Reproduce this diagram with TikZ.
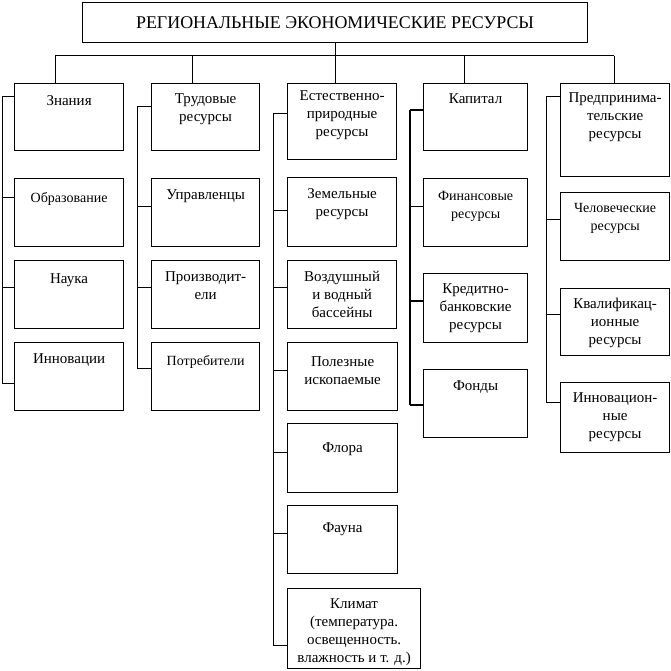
\documentclass[tikz,border=0pt]{standalone}
\usepackage{fontspec}
\setmainfont{Liberation Serif}
\tikzset{
  x=1pt, y=-1pt,
  boxst/.style={draw, line width=1.2pt, rectangle, inner sep=0pt, anchor=north west},
  txt/.style={anchor=north, align=center, inner sep=0pt, font=\fontsize{15}{18}\selectfont},
  txts/.style={anchor=north, align=center, inner sep=0pt, font=\fontsize{14}{18}\selectfont},
  conn/.style={line width=1pt},
  connb/.style={line width=1.8pt}
}
\newcommand\mkbox[8]{% name, x1, y1, x2, y2, style, text offset, text
  \node[boxst, minimum width=#4-#2, minimum height=#5-#3] (#1) at (#2,#3) {};
  \node[#6] (#1-t) at ([yshift=-#7pt]#1.north) {#8};
}
\begin{document}
\begin{tikzpicture}
\useasboundingbox (0,0) rectangle (671,671);
% title
\node[boxst, minimum width=505, minimum height=40] (title) at (82,2) {};
\node[anchor=center, inner sep=0pt, font=\fontsize{17.9}{20}\selectfont] (title-t) at (title.center) {РЕГИОНАЛЬНЫЕ ЭКОНОМИЧЕСКИЕ РЕСУРСЫ};

% column 1
\mkbox{kn}{14}{83}{123}{150}{txt}{12}{Знания}
\mkbox{obr}{14}{178}{123}{246}{txts}{14}{Образование}
\mkbox{nau}{14}{260}{123}{328}{txt}{13}{Наука}
\mkbox{inn}{14}{342}{123}{410}{txt}{11}{Инновации}
% column 2
\mkbox{tr}{151}{83}{259}{150}{txt}{10}{Трудовые\\ресурсы}
\mkbox{upr}{151}{178}{259}{246}{txt}{11}{Управленцы}
\mkbox{pro}{151}{260}{259}{328}{txt}{11}{Производит-\\ели}
\mkbox{pot}{151}{342}{259}{410}{txts}{13}{Потребители}
% column 3
\mkbox{est}{287}{83}{396}{159}{txt}{7}{Естественно-\\природные\\ресурсы}
\mkbox{zem}{287}{177}{396}{246}{txt}{11}{Земельные\\ресурсы}
\mkbox{voz}{287}{260}{396}{328}{txt}{11}{Воздушный\\и водный\\бассейны}
\mkbox{pol}{287}{342}{397}{410}{txt}{14}{Полезные\\ископаемые}
\mkbox{flo}{287}{423}{397}{492}{txt}{19}{Флора}
\mkbox{fau}{287}{505}{397}{573}{txt}{17}{Фауна}
\mkbox{kli}{287}{588}{420}{668}{txt}{10}{Климат\\(температура.\\освещенность.\\влажность и т. д.)}
% column 4
\mkbox{kap}{423}{83}{527}{150}{txt}{10}{Капитал}
\mkbox{fin}{423}{178}{527}{246}{txts}{13}{Финансовые\\ресурсы}
\mkbox{kre}{423}{273}{527}{342}{txt}{10}{Кредитно-\\банковские\\ресурсы}
\mkbox{fon}{423}{369}{527}{437}{txt}{11}{Фонды}
% column 5
\mkbox{pre}{560}{83}{669}{176}{txt}{9}{Предпринима-\\тельские\\ресурсы}
\mkbox{che}{560}{192}{669}{260}{txts}{11}{Человеческие\\ресурсы}
\mkbox{kva}{560}{288}{669}{355}{txt}{10}{Квалификац-\\ионные\\ресурсы}
\mkbox{inr}{560}{382}{669}{452}{txt}{10}{Инновацион-\\ные\\ресурсы}

% bus
\coordinate (busL) at (55,56);
\coordinate (busR) at (614,56);
\draw[conn] (title.south) -- (title.south |- busL);
\draw[conn] (busL) -- (busR);
\draw[conn] (busL) -- (busL |- kn.north);
\draw[conn] (busL -| 192,0) -- (tr.north -| 192,0);
\draw[conn] (busL -| title.south) -- (est.north -| title.south);
\draw[conn] (busL -| 464,0) -- (kap.north -| 464,0);
\draw[conn] (busR) -- (busR |- pre.north);

% spine 1
\coordinate (s1a) at (2,97);
\coordinate (s1b) at (2,383);
\draw[conn] (s1a) -- (s1b);
\draw[conn] (s1a) -- (s1a -| kn.west);
\draw[conn] (s1a |- 0,197) -- (obr.west |- 0,197);
\draw[conn] (s1a |- 0,287) -- (nau.west |- 0,287);
\draw[conn] (s1b) -- (s1b -| inn.west);
% spine 2
\coordinate (s2a) at (137,107);
\coordinate (s2b) at (137,368);
\draw[conn] (s2a) -- (s2b);
\draw[conn] (s2a) -- (s2a -| tr.west);
\draw[conn] (s2a |- 0,206) -- (upr.west |- 0,206);
\draw[conn] (s2a |- 0,287) -- (pro.west |- 0,287);
\draw[conn] (s2b) -- (s2b -| pot.west);
% spine 3
\coordinate (s3a) at (273,114);
\coordinate (s3b) at (273,645);
\draw[conn] (s3a) -- (s3b);
\draw[conn] (s3a) -- (s3a -| est.west);
\draw[conn] (s3a |- 0,210) -- (zem.west |- 0,210);
\draw[conn] (s3a |- 0,287) -- (voz.west |- 0,287);
\draw[conn] (s3a |- 0,370) -- (pol.west |- 0,370);
\draw[conn] (s3a |- 0,452) -- (flo.west |- 0,452);
\draw[conn] (s3a |- 0,533) -- (fau.west |- 0,533);
\draw[conn] (s3b) -- (s3b -| kli.west);
% spine 4
\coordinate (s4a) at (410,110);
\coordinate (s4b) at (410,405);
\draw[connb] (s4a) -- (s4b);
\draw[connb] (s4a) -- (s4a -| kap.west);
\draw[conn] (s4a |- 0,206) -- (fin.west |- 0,206);
\draw[connb] (s4a |- 0,301) -- (kre.west |- 0,301);
\draw[connb] (s4b) -- (s4b -| fon.west);
% spine 5
\coordinate (s5a) at (546,97);
\coordinate (s5b) at (546,402);
\draw[conn] (s5a) -- (s5b);
\draw[conn] (s5a) -- (s5a -| pre.west);
\draw[conn] (s5a |- 0,219) -- (che.west |- 0,219);
\draw[conn] (s5a |- 0,314) -- (kva.west |- 0,314);
\draw[conn] (s5b) -- (s5b -| inr.west);
\end{tikzpicture}
\end{document}
